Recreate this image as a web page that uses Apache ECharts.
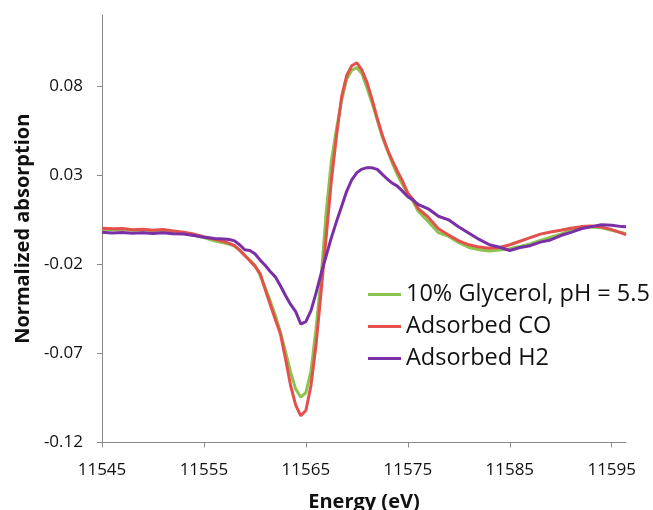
<!DOCTYPE html>
<html>
<head>
<meta charset="utf-8">
<script src="https://cdn.jsdelivr.net/npm/echarts@6/dist/echarts.min.js"></script>
<style>
  html, body { margin: 0; padding: 0; background: #fff; }
  #chart { width: 653px; height: 510px; }
</style>
</head>
<body>
<div id="chart"></div>
<script>
// photon energy (eV), shared by all three spectra
const energy = [
  11545, 11546, 11547, 11548, 11549, 11550, 11551, 11552, 11553, 11554, 11555, 11556, 11557,
  11557.5, 11558, 11558.5, 11559, 11559.5, 11560, 11560.5, 11561, 11561.5, 11562, 11562.5,
  11563, 11563.5, 11564, 11564.5, 11565, 11565.5, 11566, 11566.5, 11567, 11567.5, 11568,
  11568.5, 11569, 11569.5, 11570, 11570.5, 11571, 11571.5, 11572, 11572.5, 11573, 11573.5,
  11574, 11574.5, 11575, 11575.5, 11576,
  11577, 11578, 11579, 11580, 11581, 11582, 11583, 11584, 11585, 11586, 11587, 11588, 11589,
  11590, 11591, 11592, 11593, 11594, 11595, 11596, 11596.4
];

const glycerol = [
  -0.0003, -0.0006, -0.0004, -0.0008, -0.0007, -0.0010, -0.0009, -0.0015, -0.0024, -0.0035, -0.0050, -0.0068, -0.0080,
  -0.0088, -0.0098, -0.0120, -0.0150, -0.0176, -0.0205, -0.0260, -0.0330, -0.0405, -0.0485, -0.0580,
  -0.0690, -0.0805, -0.0900, -0.0945, -0.0920, -0.0800, -0.0560, -0.0270, 0.0100, 0.0380, 0.0560,
  0.0720, 0.0840, 0.0890, 0.0905, 0.0870, 0.0790, 0.0705, 0.0610, 0.0515, 0.0440, 0.0365,
  0.0300, 0.0245, 0.0195, 0.0155, 0.0100,
  0.0040, -0.0022, -0.0043, -0.0078, -0.0105, -0.0118, -0.0125, -0.0120, -0.0112, -0.0100, -0.0085, -0.0065, -0.0048,
  -0.0030, -0.0010, 0.0005, 0.0010, 0.0005, -0.0008, -0.0022, -0.0028
];

const adsorbedCO = [
  0.0003, 0.0000, 0.0002, -0.0005, -0.0003, -0.0008, -0.0004, -0.0012, -0.0020, -0.0030, -0.0045, -0.0058, -0.0072,
  -0.0082, -0.0095, -0.0120, -0.0150, -0.0180, -0.0210, -0.0250, -0.0340, -0.0425, -0.0510, -0.0590,
  -0.0730, -0.0880, -0.0990, -0.1050, -0.1020, -0.0880, -0.0650, -0.0350, -0.0040, 0.0270, 0.0520,
  0.0740, 0.0860, 0.0915, 0.0932, 0.0890, 0.0820, 0.0725, 0.0620, 0.0525, 0.0445, 0.0380,
  0.0320, 0.0265, 0.0200, 0.0165, 0.0115,
  0.0065, 0.0000, -0.0035, -0.0068, -0.0090, -0.0103, -0.0110, -0.0105, -0.0090, -0.0070, -0.0050, -0.0030, -0.0018,
  -0.0008, 0.0003, 0.0012, 0.0015, 0.0010, -0.0005, -0.0025, -0.0035
];

const adsorbedH2 = [
  -0.0020, -0.0024, -0.0021, -0.0025, -0.0023, -0.0027, -0.0022, -0.0028, -0.0030, -0.0038, -0.0048, -0.0055, -0.0058,
  -0.0060, -0.0068, -0.0090, -0.0118, -0.0122, -0.0140, -0.0175, -0.0205, -0.0240, -0.0270, -0.0320,
  -0.0375, -0.0425, -0.0465, -0.0535, -0.0522, -0.0460, -0.0360, -0.0250, -0.0150, -0.0050, 0.0040,
  0.0125, 0.0210, 0.0275, 0.0315, 0.0335, 0.0343, 0.0342, 0.0333, 0.0305, 0.0278, 0.0255,
  0.0238, 0.0210, 0.0180, 0.0162, 0.0137,
  0.0112, 0.0070, 0.0050, 0.0010, -0.0025, -0.0060, -0.0090, -0.0104, -0.0122, -0.0105, -0.0095, -0.0075, -0.0063,
  -0.0038, -0.0020, 0.0000, 0.0012, 0.0022, 0.0020, 0.0012, 0.0011
];

const seriesNames = ['10% Glycerol, pH = 5.5', 'Adsorbed CO', 'Adsorbed H2'];
const colors = ['#8CC24E', '#E4504B', '#7B2FA6'];

const xTicks = [11545, 11555, 11565, 11575, 11585, 11595];
const yTicks = [-0.12, -0.07, -0.02, 0.03, 0.08];

const font = '"Open Sans", "Liberation Sans", sans-serif';
const axisGray = '#8a8a8a';

const chart = echarts.init(document.getElementById('chart'));

const pairs = (vals) => energy.map((e, i) => [e, vals[i]]);

chart.setOption({
  animation: false,
  grid: { left: 102, right: 27, top: 15, bottom: 67.5, outerBoundsMode: 'none', containLabel: false },
  legend: {
    orient: 'vertical',
    left: 363,
    top: 276,
    icon: 'rect',
    itemWidth: 33,
    itemHeight: 3,
    itemGap: 5,
    textStyle: { fontFamily: font, fontSize: 23.5, lineHeight: 27, color: '#111' },
    data: seriesNames,
  },
  xAxis: {
    type: 'value',
    min: 11545,
    max: 11596.4,
    name: 'Energy (eV)',
    nameLocation: 'middle',
    nameGap: 50,
    nameTextStyle: { fontFamily: font, fontSize: 20, fontWeight: 'bold', color: '#111' },
    axisLine: { onZero: false, lineStyle: { color: axisGray, width: 1 } },
    axisTick: { show: true, length: 5, customValues: xTicks, lineStyle: { color: axisGray } },
    axisLabel: {
      customValues: xTicks,
      margin: 19,
      fontFamily: font,
      fontSize: 17,
      color: '#111',
      formatter: (v) => String(v),
    },
    splitLine: { show: false },
  },
  yAxis: {
    type: 'value',
    min: -0.12,
    max: 0.12,
    name: 'Normalized absorption',
    nameLocation: 'middle',
    nameGap: 69,
    nameTextStyle: { fontFamily: font, fontSize: 20, fontWeight: 'bold', color: '#111' },
    axisLine: { show: true, onZero: false, lineStyle: { color: axisGray, width: 1 } },
    axisTick: { show: true, length: 5, customValues: yTicks, lineStyle: { color: axisGray } },
    axisLabel: {
      customValues: yTicks,
      margin: 19,
      fontFamily: font,
      fontSize: 17,
      color: '#111',
      formatter: (v) => v.toFixed(2),
    },
    splitLine: { show: false },
  },
  series: [glycerol, adsorbedCO, adsorbedH2].map((vals, i) => ({
    name: seriesNames[i],
    type: 'line',
    data: pairs(vals),
    showSymbol: false,
    symbol: 'none',
    lineStyle: { width: 3, color: colors[i] },
    itemStyle: { color: colors[i] },
  })),
});
</script>
</body>
</html>
